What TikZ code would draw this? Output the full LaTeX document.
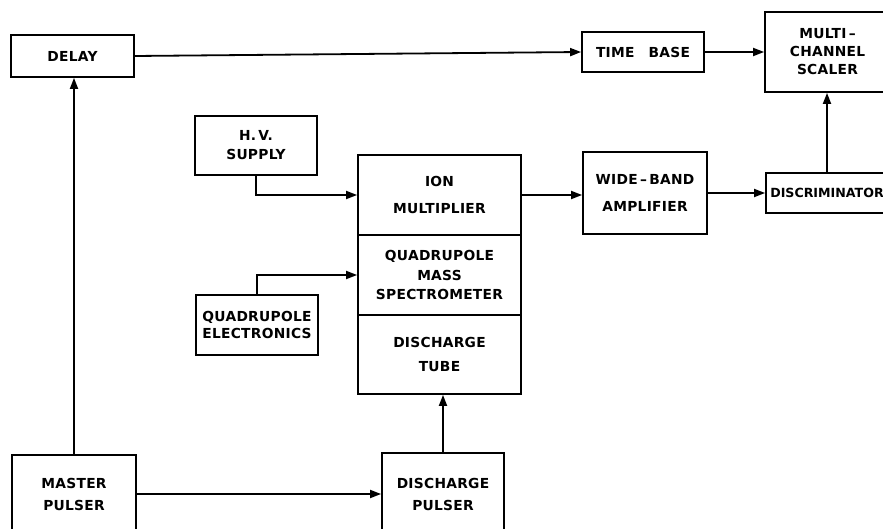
\documentclass[tikz,border=0pt]{standalone}
\usepackage{fontspec}
\setmainfont{DejaVu Sans}[LetterSpace=2]
\usetikzlibrary{arrows.meta}
\begin{document}
\begin{tikzpicture}[x=1pt,y=-1pt,
  box/.style={draw, line width=1.8pt, inner sep=0pt, align=center,
    font=\bfseries\fontsize{13.8}{18}\selectfont},
  arr/.style={line width=1.8pt, -{Triangle[length=11pt,width=8pt]}}]
\useasboundingbox (0,0) rectangle (883,529);
\clip (0,0) rectangle (883,529);
\fill[white] (0,0) rectangle (883,529);
\node[box, minimum width=123pt, minimum height=42pt] (delay) at (72.5,56) {DELAY};
\node[box, minimum width=122pt, minimum height=40pt] (tb) at (643,52) {TIME\hspace{14pt}BASE};
\node[box, minimum width=125pt, minimum height=80pt] (mcs) at (827.5,52) {MULTI\,--\\[0pt]CHANNEL\\[0pt]SCALER};
\node[box, minimum width=122pt, minimum height=59pt] (hv) at (256,145.5) {H.\,V.\\[1pt]SUPPLY};
\node[box, minimum width=163pt, minimum height=80pt] (ion) at (439.5,195) {ION\\[9pt]MULTIPLIER};
\node[box, minimum width=163pt, minimum height=80pt] (quad) at (439.5,275) {QUADRUPOLE\\[1.5pt]MASS\\[1.5pt]SPECTROMETER};
\node[box, minimum width=163pt, minimum height=79pt] (tube) at (439.5,354.5) {DISCHARGE\\[6pt]TUBE};
\node[box, minimum width=122pt, minimum height=60pt] (qe) at (257,325) {QUADRUPOLE\\[-0.5pt]ELECTRONICS};
\node[box, minimum width=124pt, minimum height=82pt] (wb) at (645,193) {WIDE\,--\,BAND\\[9pt]AMPLIFIER};
\node[box, minimum width=122pt, minimum height=40pt] (disc) at (827,193) {\addfontfeature{LetterSpace=0}\fontsize{12.6}{15}\selectfont DISCRIMINATOR};
\node[box, minimum width=124pt, minimum height=78pt] (mp) at (74,494) {MASTER\\[4pt]PULSER};
\node[box, minimum width=122pt, minimum height=82pt] (dp) at (443,494) {DISCHARGE\\[4pt]PULSER};
\draw[arr] (delay.east) -- (tb.west);
\draw[arr] (tb.east) -- (mcs.west |- tb.east);
\draw[arr] (disc.north) -- (disc.north |- mcs.south);
\draw[arr] (hv.south) |- (ion.west);
\draw[arr] (qe.north) |- (quad.west);
\draw[arr] (ion.east) -- (wb.west |- ion.east);
\draw[arr] (wb.east) -- (disc.west |- wb.east);
\draw[arr] (mp.north) -- (mp.north |- delay.south);
\draw[arr] (mp.east) -- (dp.west |- mp.east);
\draw[arr] (dp.north) -- (dp.north |- tube.south);
\end{tikzpicture}
\end{document}
